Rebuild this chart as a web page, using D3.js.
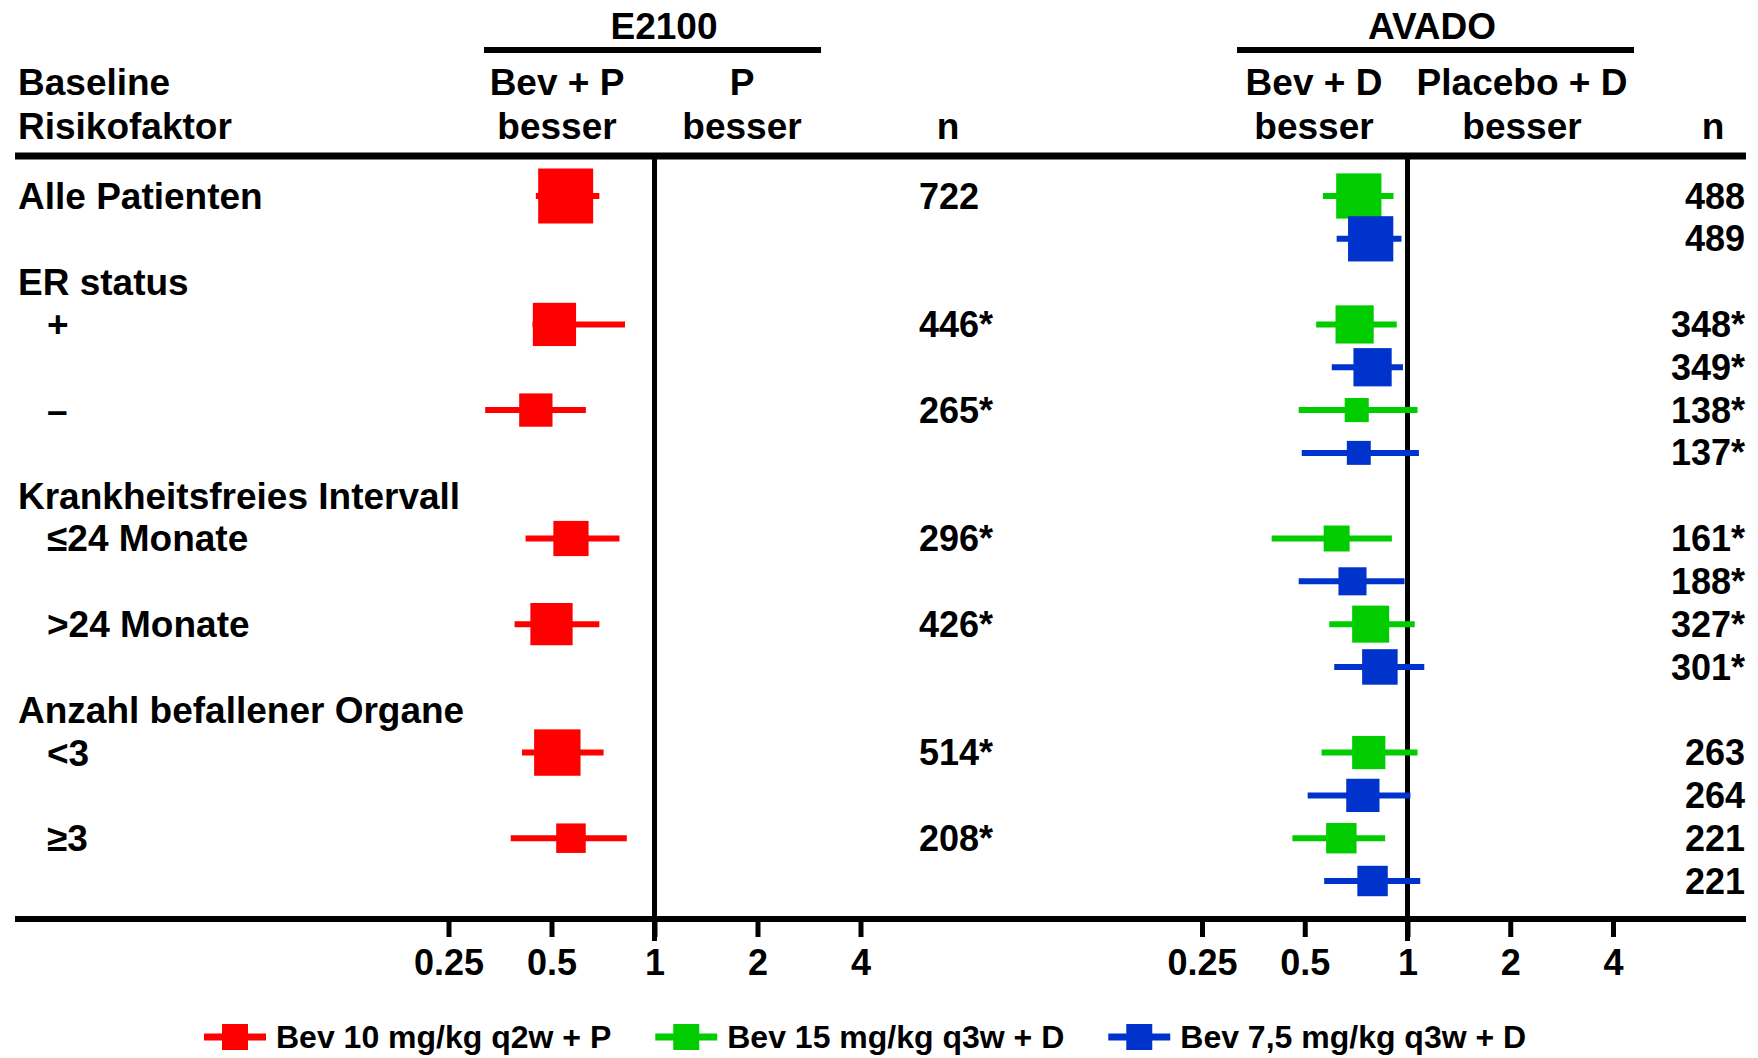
<!doctype html>
<html lang="de">
<head>
    <meta charset="UTF-8">
    <title>Forest plot E2100 / AVADO</title>
    <script src="https://d3js.org/d3.v7.min.js"></script>
    <style>
        body { margin: 0; background: #fff; }
        svg text { font-family: "Liberation Sans", Arial, Helvetica, sans-serif; font-weight: bold; fill: #000; }
    </style>
</head>
<body>
<div id="chart-area"></div>

<script>

// rows
const rowLabels = ['Alle Patienten', '+', '–', '≤24 Monate', '>24 Monate', '<3', '≥3'];
const rowGroups = ['', 'ER status', 'ER status',
    'Krankheitsfreies Intervall', 'Krankheitsfreies Intervall',
    'Anzahl befallener Organe', 'Anzahl befallener Organe'];

// E2100: Bev 10 mg/kg q2w + P
const e2100HR = [0.55, 0.51, 0.45, 0.57, 0.50, 0.52, 0.57];
const e2100Lo = [0.45, 0.44, 0.32, 0.42, 0.39, 0.41, 0.38];
const e2100Hi = [0.69, 0.82, 0.63, 0.79, 0.69, 0.71, 0.83];
const e2100N = [722, 446, 265, 296, 426, 514, 208];
const e2100Star = [false, true, true, true, true, true, true];

// AVADO: Bev 15 mg/kg q3w + D
const bev15HR = [0.72, 0.70, 0.71, 0.62, 0.78, 0.77, 0.64];
const bev15Lo = [0.565, 0.54, 0.48, 0.40, 0.59, 0.56, 0.46];
const bev15Hi = [0.91, 0.93, 1.07, 0.90, 1.05, 1.07, 0.86];
const bev15N = [488, 348, 138, 161, 327, 263, 221];
const bev15Star = [false, true, true, true, true, false, false];

// AVADO: Bev 7,5 mg/kg q3w + D
const bev75HR = [0.78, 0.79, 0.72, 0.69, 0.83, 0.74, 0.79];
const bev75Lo = [0.62, 0.60, 0.49, 0.48, 0.61, 0.51, 0.57];
const bev75Hi = [0.96, 0.97, 1.08, 0.98, 1.12, 1.02, 1.09];
const bev75N = [489, 349, 137, 188, 301, 264, 221];
const bev75Star = [false, true, true, true, true, false, false];

const tickValues = [0.25, 0.5, 1, 2, 4];
const legendLabels = ['Bev 10 mg/kg q2w + P', 'Bev 15 mg/kg q3w + D', 'Bev 7,5 mg/kg q3w + D'];
const colors = ['#ff0000', '#00cc00', '#0033cc'];

const W = 1758, H = 1058;
const topY = 156, axisY = 919;
const FS = 37;

const svg = d3.select('#chart-area')
    .append('svg')
    .attr('width', W)
    .attr('height', H);

// one slot per printed line: group header, green/red line, blue line
const slots = [];
let prev = null;
rowLabels.forEach((r, i) => {
    const g = rowGroups[i];
    if (g && g !== prev) slots.push('g' + i);
    prev = g;
    slots.push('a' + i);
    slots.push('b' + i);
});

const y = d3.scalePoint().domain(slots).range([196, 881]);
const xL = d3.scaleLog().domain([0.25, 4]).range([448.5, 860.5]);
const xR = d3.scaleLog().domain([0.25, 4]).range([1202, 1613]);
const size = d3.scaleSqrt().domain([0, 722]).range([0, 55]);

// headers
const head = svg.append('g');
function txt(x, yy, s, anchor) {
    return head.append('text')
        .attr('x', x).attr('y', yy).attr('dy', '0.35em')
        .attr('text-anchor', anchor || 'middle')
        .style('font-size', FS + 'px')
        .text(s);
}
txt(664, 26, 'E2100');
txt(1432, 26, 'AVADO');
head.append('line').attr('x1', 484).attr('x2', 821).attr('y1', 50).attr('y2', 50)
    .attr('stroke', '#000').attr('stroke-width', 6);
head.append('line').attr('x1', 1237).attr('x2', 1634).attr('y1', 50).attr('y2', 50)
    .attr('stroke', '#000').attr('stroke-width', 6);

txt(18, 82, 'Baseline', 'start');
txt(18, 126, 'Risikofaktor', 'start');
txt(557, 82, 'Bev + P');
txt(557, 126, 'besser');
txt(742, 82, 'P');
txt(742, 126, 'besser');
txt(948, 126, 'n');
txt(1314, 82, 'Bev + D');
txt(1314, 126, 'besser');
txt(1522, 82, 'Placebo + D');
txt(1522, 126, 'besser');
txt(1713, 126, 'n');

// frame lines
svg.append('line').attr('x1', 15).attr('x2', 1746).attr('y1', topY).attr('y2', topY)
    .attr('stroke', '#000').attr('stroke-width', 7);
svg.append('line').attr('x1', 15).attr('x2', 1746).attr('y1', axisY).attr('y2', axisY)
    .attr('stroke', '#000').attr('stroke-width', 6);

// axes
[xL, xR].forEach(sc => {
    const ax = svg.append('g')
        .attr('transform', `translate(0,${axisY})`)
        .call(d3.axisBottom(sc)
            .tickValues(tickValues)
            .tickFormat(d => d)
            .tickSize(18)
            .tickPadding(12));
    ax.select('.domain').remove();
    ax.selectAll('.tick line').attr('stroke', '#000').attr('stroke-width', 5);
    ax.selectAll('.tick text')
        .style('font-size', '36px')
        .style('font-family', '"Liberation Sans", Arial, sans-serif')
        .style('font-weight', 'bold')
        .attr('fill', '#000');

    svg.append('line')
        .attr('x1', sc(1)).attr('x2', sc(1))
        .attr('y1', topY).attr('y2', axisY + 22)
        .attr('stroke', '#000').attr('stroke-width', 5);
});

// row labels
const labels = svg.append('g');
rowLabels.forEach((r, i) => {
    const g = rowGroups[i];
    if (g && (i === 0 || rowGroups[i - 1] !== g)) {
        labels.append('text')
            .attr('x', 18).attr('y', y('g' + i)).attr('dy', '0.35em')
            .style('font-size', FS + 'px')
            .text(g);
    }
    labels.append('text')
        .attr('x', g ? 47 : 18).attr('y', y('a' + i)).attr('dy', '0.35em')
        .style('font-size', FS + 'px')
        .text(r);
});

// markers
function drawSeries(sc, hr, lo, hi, n, slot, color) {
    const gg = svg.append('g');
    hr.forEach((v, i) => {
        const yy = y(slot + i);
        gg.append('line')
            .attr('x1', sc(lo[i])).attr('x2', sc(hi[i]))
            .attr('y1', yy).attr('y2', yy)
            .attr('stroke', color).attr('stroke-width', 6);
        const s = size(n[i]);
        gg.append('rect')
            .attr('x', sc(v) - s / 2).attr('y', yy - s / 2)
            .attr('width', s).attr('height', s)
            .attr('fill', color);
    });
}
drawSeries(xL, e2100HR, e2100Lo, e2100Hi, e2100N, 'a', colors[0]);
drawSeries(xR, bev15HR, bev15Lo, bev15Hi, bev15N, 'a', colors[1]);
drawSeries(xR, bev75HR, bev75Lo, bev75Hi, bev75N, 'b', colors[2]);

// n columns
const nt = svg.append('g');
e2100N.forEach((v, i) => {
    nt.append('text').attr('x', 919).attr('y', y('a' + i)).attr('dy', '0.35em')
        .style('font-size', '36px')
        .text(v + (e2100Star[i] ? '*' : ''));
});
bev15N.forEach((v, i) => {
    nt.append('text').attr('x', 1745).attr('y', y('a' + i)).attr('dy', '0.35em')
        .attr('text-anchor', 'end').style('font-size', '36px')
        .text(v + (bev15Star[i] ? '*' : ''));
});
bev75N.forEach((v, i) => {
    nt.append('text').attr('x', 1745).attr('y', y('b' + i)).attr('dy', '0.35em')
        .attr('text-anchor', 'end').style('font-size', '36px')
        .text(v + (bev75Star[i] ? '*' : ''));
});

// legend
const legY = 1037;
let lx = 204;
legendLabels.forEach((l, i) => {
    const g = svg.append('g');
    g.append('line').attr('x1', lx).attr('x2', lx + 62).attr('y1', legY).attr('y2', legY)
        .attr('stroke', colors[i]).attr('stroke-width', 7);
    g.append('rect').attr('x', lx + 31 - 13).attr('y', legY - 13)
        .attr('width', 26).attr('height', 26).attr('fill', colors[i]);
    const t = g.append('text').attr('x', lx + 72).attr('y', legY).attr('dy', '0.35em')
        .style('font-size', '32px').text(l);
    lx += 72 + t.node().getComputedTextLength() + 44;
});

</script>

</body>
</html>
